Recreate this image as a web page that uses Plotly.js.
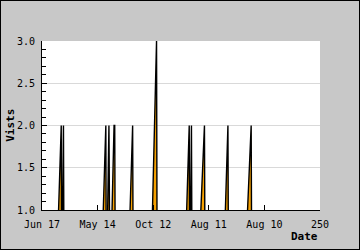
<!DOCTYPE html>
<html>
<head>
<meta charset="utf-8">
<script src="https://cdn.plot.ly/plotly-3.0.1.min.js"></script>
<style>
  html, body { margin: 0; padding: 0; background: #c8c8c8; }
  #wrap { width: 358px; height: 248px; border: 1px solid #000; }
  #chart { width: 358px; height: 248px; }
</style>
</head>
<body>
<div id="wrap"><div id="chart"></div></div>
<script>
// Data point index (x) and number of visits (y)
var dayIndex = [0, 12.5, 17.3, 17.7, 19.3, 19.9,
                52.8, 57.4, 57.9, 60.2, 60.8,
                61.2, 64.8, 65.4, 66.0,
                76.9, 81.5, 82.1,
                97.5, 103.0, 103.6,
                127.8, 132.4, 132.9, 134.4, 135.0,
                139.6, 146.1, 146.7,
                162.6, 167.2, 167.8,
                181.6, 188.1, 188.7,
                250];
var visits   = [0, 0, 2, 0, 2, 0,
                0, 2, 0, 2, 0,
                0, 2, 2, 0,
                0, 2, 0,
                0, 3, 0,
                0, 2, 0, 2, 0,
                0, 2, 0,
                0, 2, 0,
                0, 2, 0,
                0];

var tickPositions = [0, 50, 100, 150, 200, 250];
var tickLabels = ['Jun 17', 'May 14', 'Oct 12', 'Aug 11', 'Aug 10', '250'];

var monoFont = {family: 'DejaVu Sans Mono', size: 10, color: '#000'};

var trace = {
  x: dayIndex,
  y: visits,
  type: 'scatter',
  mode: 'lines',
  line: {color: '#000', width: 1.4},
  fill: 'tozeroy',
  fillcolor: '#f5a000',
  hoverinfo: 'skip'
};

var layout = {
  width: 358,
  height: 248,
  margin: {l: 41, r: 39, t: 40, b: 39},
  paper_bgcolor: '#c8c8c8',
  plot_bgcolor: '#ffffff',
  showlegend: false,
  xaxis: {
    range: [0, 250],
    tickmode: 'array',
    tickvals: tickPositions,
    ticktext: tickLabels,
    ticks: 'inside',
    ticklen: 5,
    tickcolor: '#000',
    showline: true,
    linecolor: '#000',
    linewidth: 1,
    showgrid: false,
    zeroline: false,
    tickfont: monoFont,
    ticklabelstandoff: 5,
    fixedrange: true
  },
  yaxis: {
    range: [1, 3],
    dtick: 0.5,
    tick0: 1,
    tickformat: '.1f',
    ticks: 'inside',
    ticklen: 5,
    tickcolor: '#000',
    minor: {dtick: 0.1, ticks: 'inside', ticklen: 4, tickcolor: '#000', showgrid: false},
    showline: true,
    linecolor: '#000',
    linewidth: 1,
    showgrid: true,
    gridcolor: '#d9d9d9',
    zeroline: false,
    tickfont: monoFont,
    ticklabelstandoff: 4,
    fixedrange: true
  },
  annotations: [
    {text: 'Date', xref: 'paper', yref: 'paper', x: 1, y: -0.155,
     xanchor: 'right', yanchor: 'middle', showarrow: false,
     font: {family: 'DejaVu Sans Mono', size: 11, color: '#000', weight: 'bold'}},
    {text: 'Vists', xref: 'paper', yref: 'paper', x: -0.114, y: 0.5,
     xanchor: 'center', yanchor: 'middle', textangle: -90, showarrow: false,
     font: {family: 'DejaVu Sans Mono', size: 11, color: '#000', weight: 'bold'}}
  ]
};

Plotly.newPlot('chart', [trace], layout, {displayModeBar: false, staticPlot: true});
</script>
</body>
</html>
